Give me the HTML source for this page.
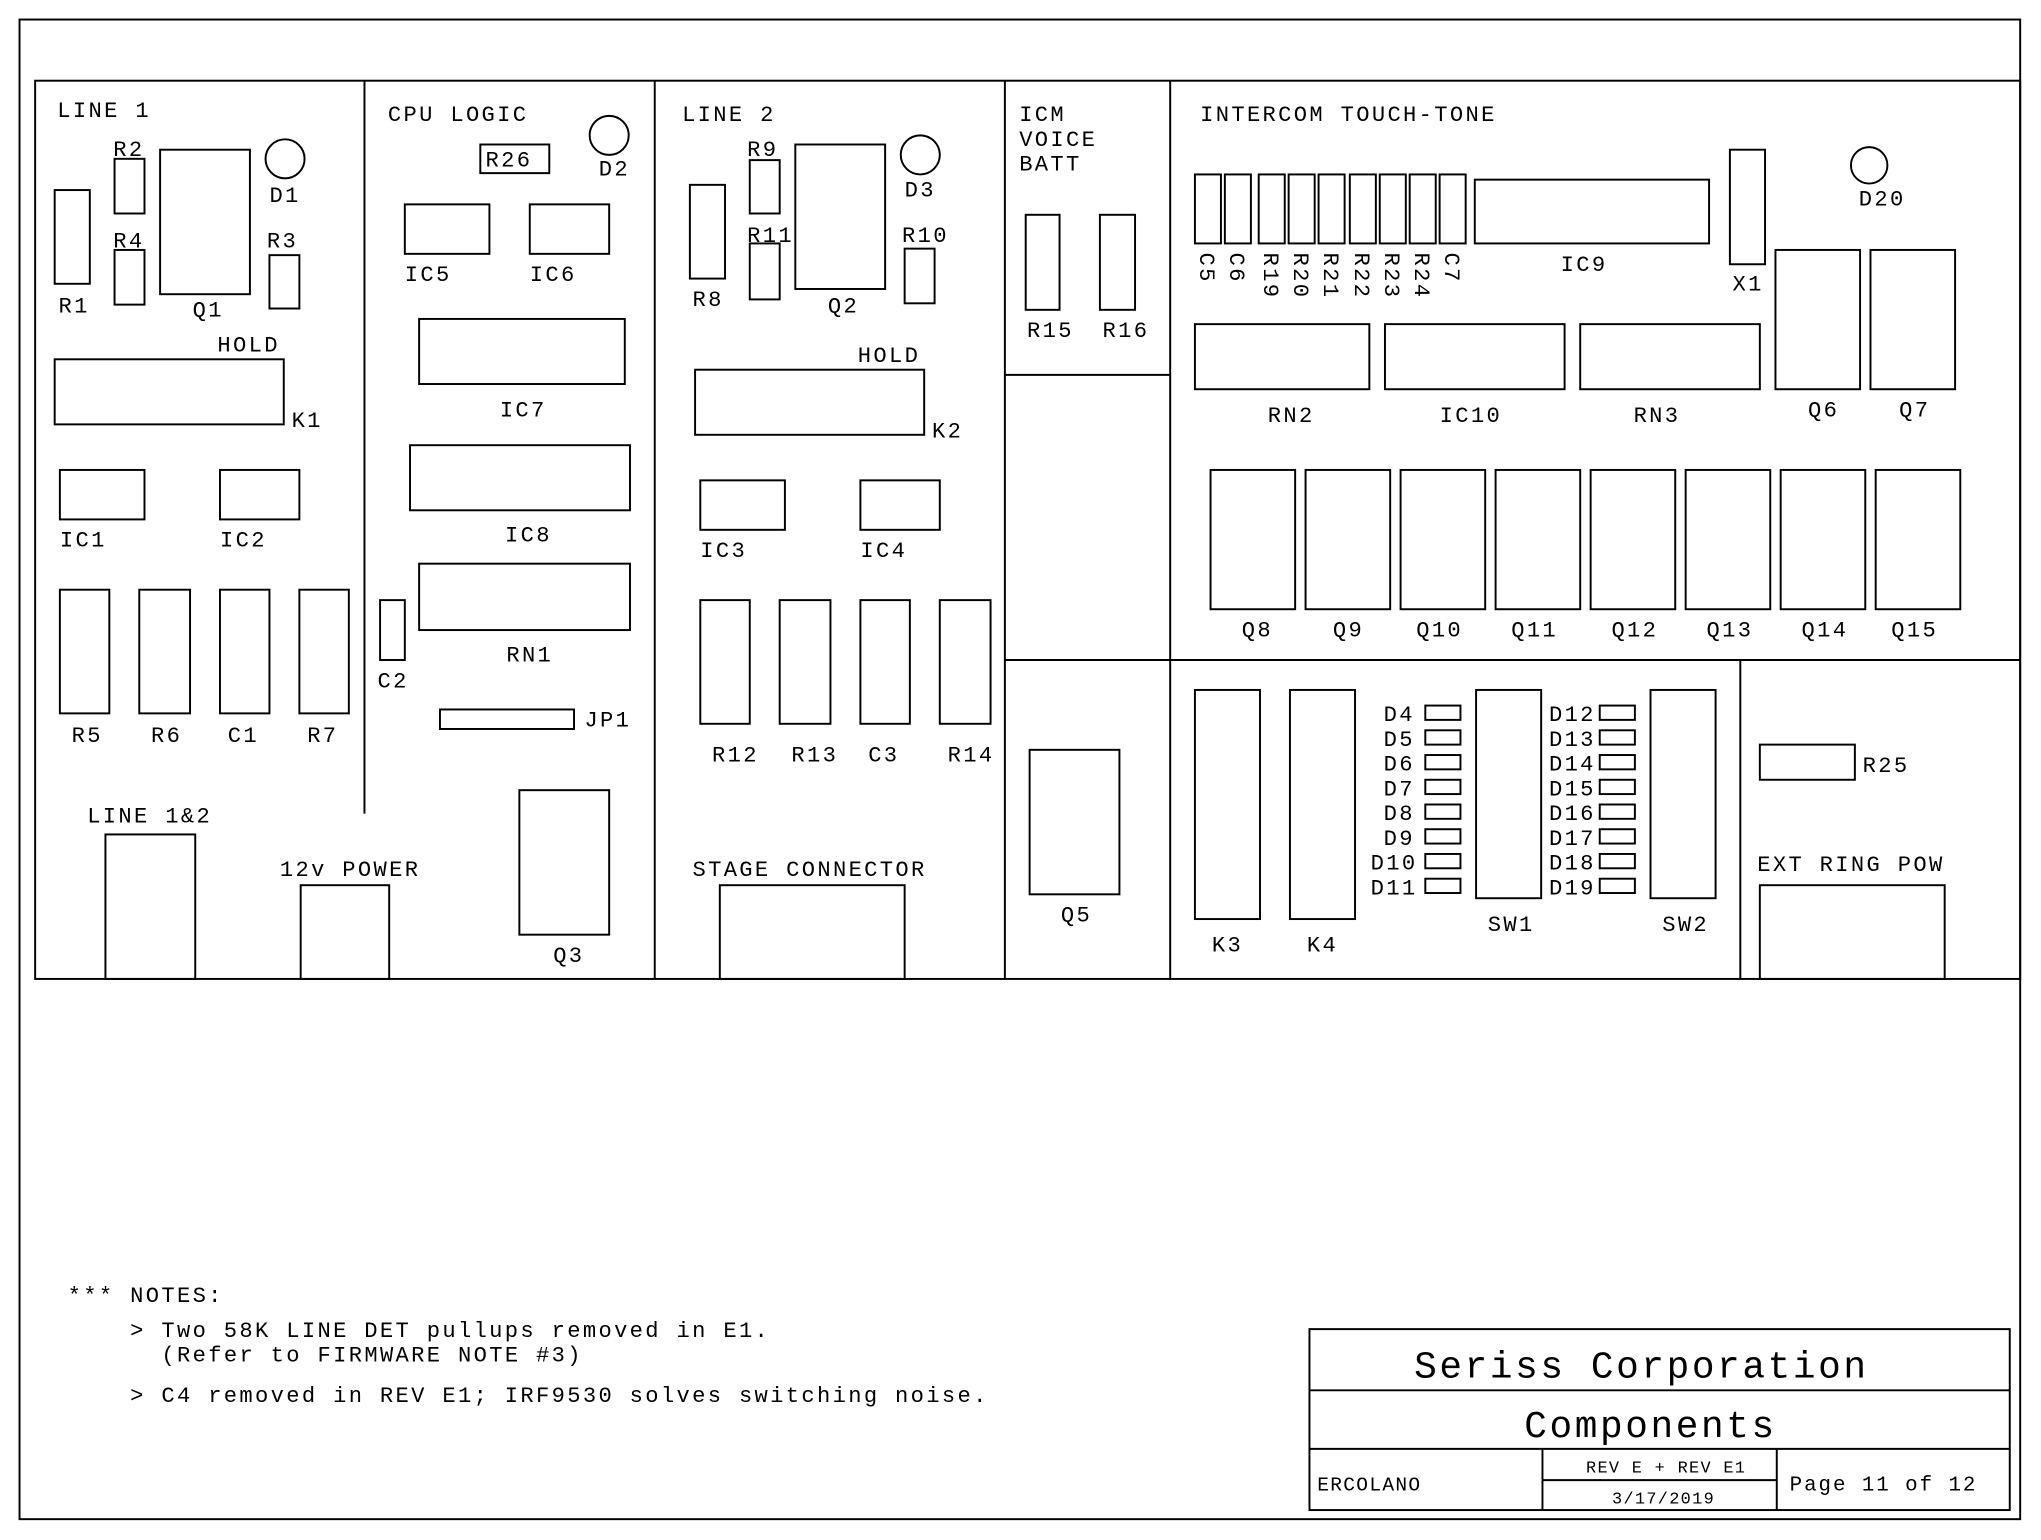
<!DOCTYPE html>
<html><head><meta charset="utf-8"><style>
html,body{margin:0;padding:0;background:#fff}
svg{display:block}
text{font-family:"Liberation Mono",monospace;font-size:17px;letter-spacing:1.8px;fill:#000}
.r{fill:none;stroke:#000;stroke-width:1.5}
.l{stroke:#000;stroke-width:1.5}
</style></head><body>
<svg width="2041" height="1540" viewBox="0 0 1568 1183" preserveAspectRatio="none" xmlns="http://www.w3.org/2000/svg">
<rect x="15" y="15" width="1537" height="1152" class="r"/>
<rect x="27" y="62" width="1525" height="690" class="r"/>
<line x1="280" y1="62" x2="280" y2="625" class="l"/>
<line x1="503" y1="62" x2="503" y2="752" class="l"/>
<line x1="772" y1="62" x2="772" y2="752" class="l"/>
<line x1="899" y1="62" x2="899" y2="752" class="l"/>
<line x1="772" y1="288" x2="899" y2="288" class="l"/>
<line x1="772" y1="507" x2="1552" y2="507" class="l"/>
<line x1="1337" y1="507" x2="1337" y2="752" class="l"/>

<!-- LINE 1 -->
<text x="44" y="90">LINE 1</text>
<rect x="88" y="122" width="23" height="42" class="r"/><text x="87" y="120">R2</text>
<circle cx="219" cy="122" r="15" class="r"/><text x="207" y="155">D1</text>
<rect x="123" y="115" width="69" height="111" class="r"/><text x="148" y="243">Q1</text>
<rect x="42" y="146" width="27" height="72" class="r"/><text x="45" y="240">R1</text>
<rect x="88" y="192" width="23" height="42" class="r"/><text x="87" y="190">R4</text>
<rect x="207" y="196" width="23" height="41" class="r"/><text x="205" y="190">R3</text>
<text x="167" y="270">HOLD</text>
<rect x="42" y="276" width="176" height="50" class="r"/><text x="224" y="328">K1</text>
<rect x="46" y="361" width="65" height="38" class="r"/><text x="46" y="420">IC1</text>
<rect x="169" y="361" width="61" height="38" class="r"/><text x="169" y="420">IC2</text>
<rect x="46" y="453" width="38" height="95" class="r"/><text x="55" y="570">R5</text>
<rect x="107" y="453" width="39" height="95" class="r"/><text x="116" y="570">R6</text>
<rect x="169" y="453" width="38" height="95" class="r"/><text x="175" y="570">C1</text>
<rect x="230" y="453" width="38" height="95" class="r"/><text x="236" y="570">R7</text>
<text x="67" y="632">LINE 1&amp;2</text>
<rect x="81" y="641" width="69" height="111" class="r"/>
<text x="215" y="673">12v POWER</text>
<rect x="231" y="680" width="68" height="72" class="r"/>

<!-- CPU -->
<text x="298" y="93">CPU LOGIC</text>
<rect x="369" y="111" width="53" height="22" class="r"/><text x="373" y="128">R26</text>
<circle cx="468" cy="104" r="15" class="r"/><text x="460" y="135">D2</text>
<rect x="311" y="157" width="65" height="38" class="r"/><text x="311" y="216">IC5</text>
<rect x="407" y="157" width="61" height="38" class="r"/><text x="407" y="216">IC6</text>
<rect x="322" y="245" width="158" height="50" class="r"/><text x="384" y="320">IC7</text>
<rect x="315" y="342" width="169" height="50" class="r"/><text x="388" y="416">IC8</text>
<rect x="322" y="433" width="162" height="51" class="r"/><text x="389" y="508">RN1</text>
<rect x="292" y="461" width="19" height="46" class="r"/><text x="290" y="528">C2</text>
<rect x="338" y="545" width="103" height="15" class="r"/><text x="449" y="558">JP1</text>
<rect x="399" y="607" width="69" height="111" class="r"/><text x="425" y="739">Q3</text>

<!-- LINE 2 -->
<text x="524" y="93">LINE 2</text>
<rect x="576" y="123" width="23" height="41" class="r"/><text x="574" y="120">R9</text>
<circle cx="707" cy="119" r="15" class="r"/><text x="695" y="151">D3</text>
<rect x="611" y="111" width="69" height="111" class="r"/><text x="636" y="240">Q2</text>
<rect x="530" y="142" width="27" height="72" class="r"/><text x="532" y="235">R8</text>
<rect x="576" y="187" width="23" height="43" class="r"/><text x="574" y="186">R11</text>
<rect x="695" y="191" width="23" height="42" class="r"/><text x="693" y="186">R10</text>
<text x="659" y="278">HOLD</text>
<rect x="534" y="284" width="176" height="50" class="r"/><text x="716" y="336">K2</text>
<rect x="538" y="369" width="65" height="38" class="r"/><text x="538" y="428">IC3</text>
<rect x="661" y="369" width="61" height="38" class="r"/><text x="661" y="428">IC4</text>
<rect x="538" y="461" width="38" height="95" class="r"/><text x="547" y="585">R12</text>
<rect x="599" y="461" width="39" height="95" class="r"/><text x="608" y="585">R13</text>
<rect x="661" y="461" width="38" height="95" class="r"/><text x="667" y="585">C3</text>
<rect x="722" y="461" width="39" height="95" class="r"/><text x="728" y="585">R14</text>
<text x="532" y="673">STAGE CONNECTOR</text>
<rect x="553" y="680" width="142" height="72" class="r"/>

<!-- ICM -->
<text x="783" y="93">ICM</text><text x="783" y="112">VOICE</text><text x="783" y="131">BATT</text>
<rect x="788" y="165" width="26" height="73" class="r"/><text x="789" y="259">R15</text>
<rect x="845" y="165" width="27" height="73" class="r"/><text x="847" y="259">R16</text>
<rect x="791" y="576" width="69" height="111" class="r"/><text x="815" y="708">Q5</text>

<!-- INTERCOM -->
<text x="922" y="93">INTERCOM TOUCH-TONE</text>
<rect x="918" y="134" width="20" height="53" class="r"/>
<rect x="941" y="134" width="20" height="53" class="r"/>
<rect x="967" y="134" width="20" height="53" class="r"/>
<rect x="990" y="134" width="20" height="53" class="r"/>
<rect x="1013" y="134" width="20" height="53" class="r"/>
<rect x="1037" y="134" width="20" height="53" class="r"/>
<rect x="1060" y="134" width="20" height="53" class="r"/>
<rect x="1083" y="134" width="20" height="53" class="r"/>
<rect x="1106" y="134" width="20" height="53" class="r"/>
<g>
<text transform="translate(922,194) rotate(90)">C5</text>
<text transform="translate(945,194) rotate(90)">C6</text>
<text transform="translate(971,194) rotate(90)">R19</text>
<text transform="translate(994,194) rotate(90)">R20</text>
<text transform="translate(1017,194) rotate(90)">R21</text>
<text transform="translate(1041,194) rotate(90)">R22</text>
<text transform="translate(1064,194) rotate(90)">R23</text>
<text transform="translate(1087,194) rotate(90)">R24</text>
<text transform="translate(1110,194) rotate(90)">C7</text>
</g>
<rect x="1133" y="138" width="180" height="49" class="r"/><text x="1199" y="208">IC9</text>
<rect x="1329" y="115" width="27" height="88" class="r"/><text x="1331" y="223">X1</text>
<circle cx="1436" cy="127" r="14" class="r"/><text x="1428" y="158">D20</text>
<rect x="1364" y="192" width="65" height="107" class="r"/><text x="1389" y="320">Q6</text>
<rect x="1437" y="192" width="65" height="107" class="r"/><text x="1459" y="320">Q7</text>
<rect x="918" y="249" width="134" height="50" class="r"/><text x="974" y="324">RN2</text>
<rect x="1064" y="249" width="138" height="50" class="r"/><text x="1106" y="324">IC10</text>
<rect x="1214" y="249" width="138" height="50" class="r"/><text x="1255" y="324">RN3</text>
<rect x="930" y="361" width="65" height="107" class="r"/><text x="954" y="489">Q8</text>
<rect x="1003" y="361" width="65" height="107" class="r"/><text x="1024" y="489">Q9</text>
<rect x="1076" y="361" width="65" height="107" class="r"/><text x="1088" y="489">Q10</text>
<rect x="1149" y="361" width="65" height="107" class="r"/><text x="1161" y="489">Q11</text>
<rect x="1222" y="361" width="65" height="107" class="r"/><text x="1238" y="489">Q12</text>
<rect x="1295" y="361" width="65" height="107" class="r"/><text x="1311" y="489">Q13</text>
<rect x="1368" y="361" width="65" height="107" class="r"/><text x="1384" y="489">Q14</text>
<rect x="1441" y="361" width="65" height="107" class="r"/><text x="1453" y="489">Q15</text>

<!-- bottom right -->
<rect x="918" y="530" width="50" height="176" class="r"/><text x="931" y="731">K3</text>
<rect x="991" y="530" width="50" height="176" class="r"/><text x="1004" y="731">K4</text>
<text x="1063" y="554">D4</text><rect x="1095" y="542" width="27" height="11" class="r"/>
<text x="1063" y="573">D5</text><rect x="1095" y="561" width="27" height="11" class="r"/>
<text x="1063" y="592">D6</text><rect x="1095" y="580" width="27" height="11" class="r"/>
<text x="1063" y="611">D7</text><rect x="1095" y="599" width="27" height="11" class="r"/>
<text x="1063" y="630">D8</text><rect x="1095" y="618" width="27" height="11" class="r"/>
<text x="1063" y="649">D9</text><rect x="1095" y="637" width="27" height="11" class="r"/>
<text x="1053" y="668">D10</text><rect x="1095" y="656" width="27" height="11" class="r"/>
<text x="1053" y="687">D11</text><rect x="1095" y="675" width="27" height="11" class="r"/>
<rect x="1134" y="530" width="50" height="160" class="r"/><text x="1143" y="715">SW1</text>
<text x="1190" y="554">D12</text><rect x="1229" y="542" width="27" height="11" class="r"/>
<text x="1190" y="573">D13</text><rect x="1229" y="561" width="27" height="11" class="r"/>
<text x="1190" y="592">D14</text><rect x="1229" y="580" width="27" height="11" class="r"/>
<text x="1190" y="611">D15</text><rect x="1229" y="599" width="27" height="11" class="r"/>
<text x="1190" y="630">D16</text><rect x="1229" y="618" width="27" height="11" class="r"/>
<text x="1190" y="649">D17</text><rect x="1229" y="637" width="27" height="11" class="r"/>
<text x="1190" y="668">D18</text><rect x="1229" y="656" width="27" height="11" class="r"/>
<text x="1190" y="687">D19</text><rect x="1229" y="675" width="27" height="11" class="r"/>
<rect x="1268" y="530" width="50" height="160" class="r"/><text x="1277" y="715">SW2</text>
<rect x="1352" y="572" width="73" height="27" class="r"/><text x="1431" y="593">R25</text>
<text x="1350" y="669">EXT RING POW</text>
<rect x="1352" y="680" width="142" height="72" class="r"/>

<!-- notes -->
<text x="52" y="1000">*** NOTES:</text>
<text x="100" y="1027">&gt; Two 58K LINE DET pullups removed in E1.</text>
<text x="124" y="1046">(Refer to FIRMWARE NOTE #3)</text>
<text x="100" y="1077">&gt; C4 removed in REV E1; IRF9530 solves switching noise.</text>

<!-- title block -->
<rect x="1006" y="1021" width="538" height="139" class="r"/>
<line x1="1006" y1="1068" x2="1544" y2="1068" class="l"/>
<line x1="1006" y1="1113" x2="1544" y2="1113" class="l"/>
<line x1="1185" y1="1113" x2="1185" y2="1160" class="l"/>
<line x1="1365" y1="1113" x2="1365" y2="1160" class="l"/>
<line x1="1185" y1="1137" x2="1365" y2="1137" class="l"/>
<text x="1261" y="1058" text-anchor="middle" style="font-size:29px;letter-spacing:2px">Seriss Corporation</text>
<text x="1268" y="1104" text-anchor="middle" style="font-size:29px;letter-spacing:2px">Components</text>
<text x="1012" y="1145" style="font-size:15px;letter-spacing:1px">ERCOLANO</text>
<text x="1280" y="1131" text-anchor="middle" style="font-size:13px;letter-spacing:1px">REV E + REV E1</text>
<text x="1278" y="1155" text-anchor="middle" style="font-size:13px;letter-spacing:1px">3/17/2019</text>
<text x="1447" y="1145" text-anchor="middle" style="font-size:16px;letter-spacing:1.5px">Page 11 of 12</text>
</svg>
</body></html>
